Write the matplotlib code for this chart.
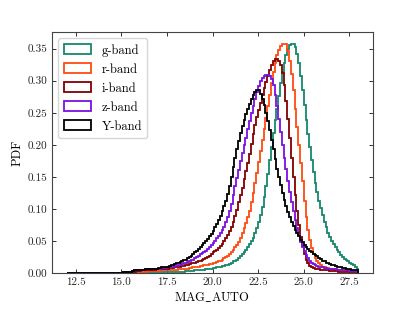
import numpy as np
import matplotlib
matplotlib.use('Agg')
import matplotlib.pyplot as plt

plt.rcParams['font.family'] = 'cmr10'
plt.rcParams['mathtext.fontset'] = 'cm'
plt.rcParams['axes.unicode_minus'] = False
plt.rcParams['axes.formatter.use_mathtext'] = True

# histogram bins (MAG_AUTO), 0.1 mag wide, 12 -> 28
edges = np.linspace(12.0, 28.0, 161)
centers = 0.5 * (edges[:-1] + edges[1:])

empty = [0.0] * 30  # 12.0 - 15.0, nothing there

# PDF per bin, from 15.0 to 28.0 (10 bins per row)
g_band = empty + [
    0.000, 0.000, 0.000, 0.000, 0.000, 0.000, 0.000, 0.000, 0.000, 0.000,
    0.000, 0.000, 0.000, 0.001, 0.001, 0.001, 0.001, 0.001, 0.001, 0.001,
    0.001, 0.001, 0.001, 0.001, 0.001, 0.001, 0.001, 0.002, 0.002, 0.002,
    0.002, 0.002, 0.002, 0.002, 0.002, 0.003, 0.003, 0.003, 0.003, 0.003,
    0.004, 0.004, 0.004, 0.005, 0.005, 0.005, 0.006, 0.006, 0.007, 0.007,
    0.008, 0.008, 0.009, 0.009, 0.010, 0.011, 0.011, 0.012, 0.013, 0.014,
    0.016, 0.018, 0.019, 0.021, 0.023, 0.026, 0.029, 0.032, 0.036, 0.040,
    0.045, 0.050, 0.055, 0.062, 0.070, 0.079, 0.090, 0.103, 0.118, 0.135,
    0.155, 0.176, 0.197, 0.218, 0.239, 0.256, 0.276, 0.296, 0.313, 0.328,
    0.340, 0.349, 0.355, 0.358, 0.357, 0.352, 0.342, 0.327, 0.307, 0.285,
    0.262, 0.239, 0.217, 0.196, 0.176, 0.158, 0.141, 0.126, 0.113, 0.101,
    0.090, 0.080, 0.071, 0.063, 0.056, 0.050, 0.045, 0.040, 0.036, 0.032,
    0.028, 0.025, 0.022, 0.020, 0.018, 0.016, 0.014, 0.012, 0.010, 0.007]
r_band = empty + [
    0.000, 0.000, 0.000, 0.000, 0.001, 0.001, 0.001, 0.001, 0.002, 0.002,
    0.002, 0.002, 0.002, 0.002, 0.003, 0.003, 0.003, 0.003, 0.003, 0.003,
    0.003, 0.003, 0.004, 0.004, 0.004, 0.004, 0.004, 0.005, 0.005, 0.005,
    0.005, 0.006, 0.006, 0.006, 0.007, 0.007, 0.007, 0.008, 0.008, 0.009,
    0.009, 0.010, 0.010, 0.011, 0.011, 0.012, 0.012, 0.013, 0.014, 0.014,
    0.015, 0.016, 0.017, 0.018, 0.019, 0.021, 0.023, 0.025, 0.027, 0.030,
    0.033, 0.036, 0.040, 0.044, 0.049, 0.055, 0.062, 0.070, 0.078, 0.087,
    0.097, 0.110, 0.125, 0.140, 0.156, 0.173, 0.190, 0.207, 0.224, 0.242,
    0.260, 0.278, 0.296, 0.313, 0.328, 0.340, 0.348, 0.354, 0.357, 0.358,
    0.357, 0.346, 0.330, 0.310, 0.285, 0.256, 0.228, 0.200, 0.172, 0.144,
    0.112, 0.088, 0.067, 0.051, 0.039, 0.030, 0.024, 0.019, 0.015, 0.012,
    0.010, 0.009, 0.008, 0.008, 0.007, 0.006, 0.006, 0.005, 0.005, 0.005,
    0.004, 0.004, 0.004, 0.004, 0.003, 0.003, 0.003, 0.003, 0.003, 0.003]
i_band = empty + [
    0.000, 0.000, 0.001, 0.001, 0.001, 0.001, 0.002, 0.002, 0.003, 0.003,
    0.003, 0.004, 0.004, 0.004, 0.004, 0.005, 0.005, 0.005, 0.005, 0.006,
    0.006, 0.006, 0.006, 0.007, 0.007, 0.007, 0.008, 0.008, 0.008, 0.009,
    0.009, 0.010, 0.010, 0.011, 0.011, 0.012, 0.013, 0.014, 0.015, 0.015,
    0.016, 0.017, 0.018, 0.019, 0.021, 0.022, 0.024, 0.025, 0.027, 0.029,
    0.032, 0.034, 0.036, 0.039, 0.042, 0.046, 0.050, 0.054, 0.059, 0.065,
    0.072, 0.080, 0.089, 0.099, 0.110, 0.121, 0.133, 0.146, 0.159, 0.172,
    0.186, 0.201, 0.217, 0.231, 0.243, 0.255, 0.266, 0.277, 0.288, 0.298,
    0.308, 0.317, 0.325, 0.331, 0.334, 0.334, 0.331, 0.324, 0.312, 0.293,
    0.268, 0.240, 0.210, 0.180, 0.150, 0.122, 0.097, 0.075, 0.056, 0.042,
    0.030, 0.021, 0.015, 0.011, 0.009, 0.008, 0.007, 0.006, 0.006, 0.005,
    0.005, 0.004, 0.004, 0.004, 0.003, 0.003, 0.003, 0.003, 0.003, 0.002,
    0.002, 0.002, 0.002, 0.002, 0.002, 0.002, 0.002, 0.001, 0.001, 0.001]
z_band = empty + [
    0.000, 0.001, 0.001, 0.001, 0.002, 0.002, 0.003, 0.004, 0.005, 0.005,
    0.005, 0.005, 0.005, 0.006, 0.006, 0.006, 0.006, 0.006, 0.007, 0.007,
    0.007, 0.007, 0.008, 0.008, 0.008, 0.009, 0.009, 0.010, 0.010, 0.011,
    0.011, 0.012, 0.013, 0.014, 0.015, 0.016, 0.017, 0.018, 0.020, 0.021,
    0.023, 0.025, 0.027, 0.029, 0.031, 0.033, 0.035, 0.038, 0.041, 0.044,
    0.047, 0.050, 0.054, 0.058, 0.062, 0.067, 0.072, 0.079, 0.087, 0.097,
    0.108, 0.121, 0.135, 0.148, 0.161, 0.174, 0.187, 0.199, 0.211, 0.225,
    0.237, 0.249, 0.261, 0.272, 0.282, 0.291, 0.299, 0.304, 0.307, 0.309,
    0.309, 0.307, 0.302, 0.293, 0.278, 0.260, 0.240, 0.220, 0.200, 0.180,
    0.162, 0.144, 0.127, 0.111, 0.096, 0.083, 0.070, 0.059, 0.049, 0.041,
    0.034, 0.028, 0.023, 0.019, 0.016, 0.014, 0.012, 0.011, 0.010, 0.009,
    0.009, 0.008, 0.008, 0.007, 0.007, 0.006, 0.006, 0.006, 0.005, 0.005,
    0.005, 0.004, 0.004, 0.004, 0.004, 0.003, 0.003, 0.003, 0.003, 0.003]
Y_band = empty + [
    0.000, 0.001, 0.001, 0.001, 0.002, 0.002, 0.003, 0.004, 0.004, 0.005,
    0.005, 0.005, 0.005, 0.006, 0.006, 0.006, 0.006, 0.007, 0.007, 0.007,
    0.008, 0.008, 0.009, 0.009, 0.010, 0.010, 0.011, 0.012, 0.013, 0.014,
    0.015, 0.016, 0.017, 0.018, 0.020, 0.021, 0.023, 0.025, 0.027, 0.029,
    0.032, 0.035, 0.038, 0.041, 0.044, 0.047, 0.050, 0.053, 0.057, 0.061,
    0.066, 0.071, 0.076, 0.082, 0.089, 0.096, 0.104, 0.113, 0.124, 0.136,
    0.150, 0.165, 0.180, 0.193, 0.206, 0.218, 0.229, 0.239, 0.248, 0.256,
    0.264, 0.271, 0.278, 0.283, 0.286, 0.285, 0.280, 0.272, 0.262, 0.250,
    0.237, 0.223, 0.208, 0.193, 0.178, 0.163, 0.150, 0.137, 0.125, 0.114,
    0.104, 0.095, 0.087, 0.080, 0.073, 0.067, 0.062, 0.057, 0.052, 0.048,
    0.044, 0.041, 0.038, 0.035, 0.032, 0.030, 0.028, 0.026, 0.024, 0.022,
    0.019, 0.018, 0.016, 0.015, 0.014, 0.013, 0.012, 0.011, 0.010, 0.009,
    0.009, 0.008, 0.008, 0.007, 0.006, 0.006, 0.005, 0.005, 0.004, 0.004]

bands = ['g-band', 'r-band', 'i-band', 'z-band', 'Y-band']
pdfs = [g_band, r_band, i_band, z_band, Y_band]
colors = ['#16876a', '#ff4a10', '#800000', '#7b10e0', 'black']

fig = plt.figure(figsize=(4.15, 3.12), dpi=100)
ax = fig.add_axes([0.1253, 0.125, 0.7735, 0.7724])

for name, vals, c in zip(bands, pdfs, colors):
    ax.hist(centers, bins=edges, weights=vals, histtype='step',
            color=c, lw=1.3, label=name)

ax.set_xlim(11.2, 28.8)
ax.set_ylim(0, 0.376)
ax.set_xticks([12.5, 15.0, 17.5, 20.0, 22.5, 25.0, 27.5])
ax.set_xticklabels(['12.5', '15.0', '17.5', '20.0', '22.5', '25.0', '27.5'])
ax.set_yticks(np.arange(0, 0.351, 0.05))
ax.set_yticklabels(['%.2f' % v for v in np.arange(0, 0.351, 0.05)])
ax.tick_params(direction='in', top=True, right=True, length=3, width=0.7,
               labelsize=8, colors='#333333', labelcolor='#222222')
for s in ax.spines.values():
    s.set_color('#444444')
    s.set_linewidth(0.8)

ax.set_xlabel(r'$\mathrm{MAG\_AUTO}$', fontsize=9, labelpad=2)
ax.set_ylabel('PDF', fontsize=9, labelpad=3)

ax.legend(loc='upper left', fontsize=9, handlelength=2.2, handleheight=0.8,
          handletextpad=0.8, labelspacing=0.55, borderpad=0.45)

fig.savefig('out.png', dpi=100)
